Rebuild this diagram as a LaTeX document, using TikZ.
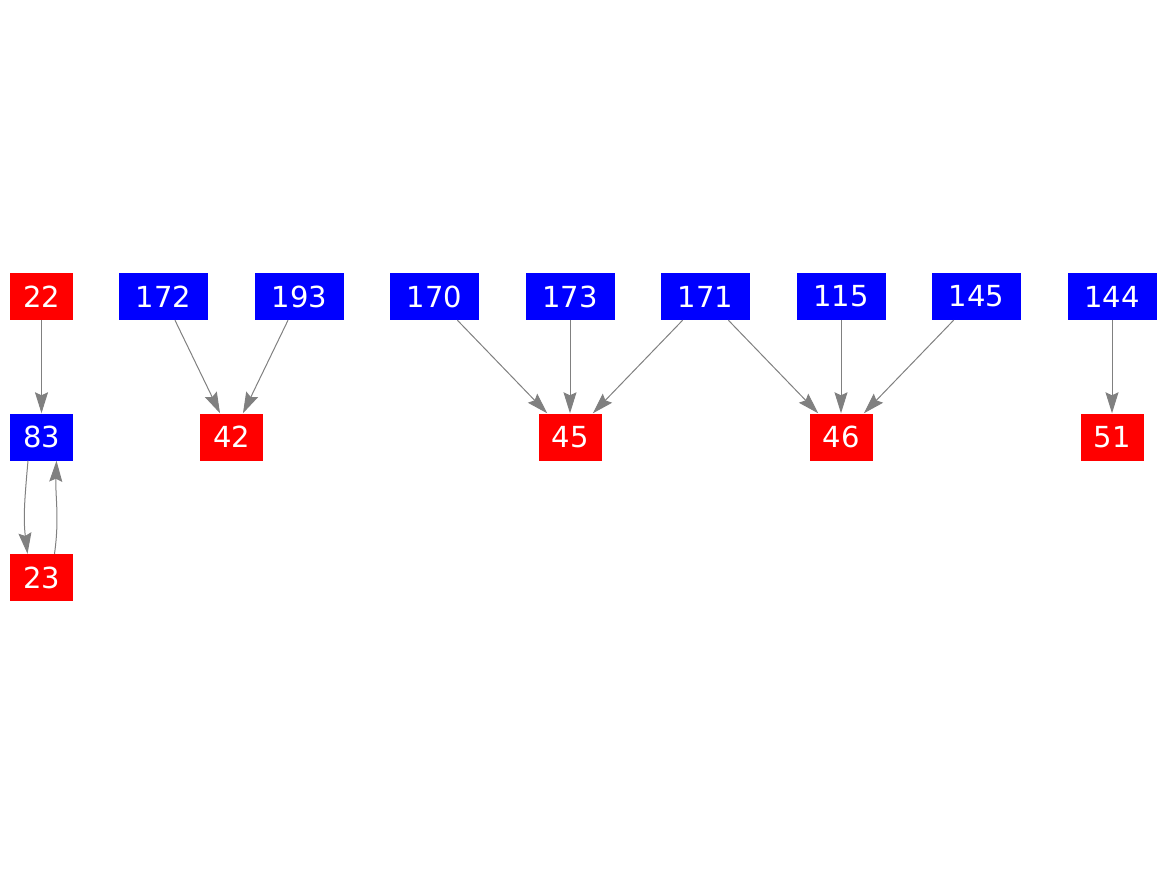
\documentclass[tikz,border=0pt]{standalone}
\usepackage{fontspec}
\setmainfont{DejaVu Sans}
\usetikzlibrary{arrows.meta}
\definecolor{nred}{HTML}{FF0000}
\definecolor{nblue}{HTML}{0000FF}
\definecolor{edgegray}{HTML}{808080}
\begin{document}
\begin{tikzpicture}[x=1pt,y=1pt,
  base/.style={rectangle,inner sep=0pt,minimum height=47pt,text=white,
    font=\fontsize{29}{34}\selectfont},
  rnode/.style={base,fill=nred,minimum width=63pt},
  bnode/.style={base,fill=nblue,minimum width=63pt},
  bwide/.style={base,fill=nblue,minimum width=89pt},
  edge/.style={draw=edgegray,line width=1pt,
    -{Stealth[length=21pt,width=13pt,inset=3pt]}}]
\useasboundingbox (0,0) rectangle (1167,-875);
% top row
\node[rnode] (n22) at (41.5,-296.5) {22};
\node[bwide] (n172) at (163.5,-296.5) {172};
\node[bwide] (n193) at (299.5,-296.5) {193};
\node[bwide] (n170) at (434.5,-296.5) {170};
\node[bwide] (n173) at (570,-296.5) {173};
\node[bwide] (n171) at (705.5,-296.5) {171};
\node[bwide] (n115) at (841,-296.5) {115};
\node[bwide] (n145) at (976.5,-296.5) {145};
\node[bwide] (n144) at (1112,-296.5) {144};
% middle row
\node[bnode] (n83) at (41.5,-437) {83};
\node[rnode] (n42) at (231.5,-437) {42};
\node[rnode] (n45) at (570,-437) {45};
\node[rnode] (n46) at (841,-437) {46};
\node[rnode] (n51) at (1112,-437) {51};
% bottom row
\node[rnode] (n23) at (41.5,-577.5) {23};
% edges
\draw[edge] (n22) -- (n83);
\draw[edge] ([xshift=-13.5pt]n83.south) to[out=-95,in=97] ([xshift=-14pt]n23.north);
\draw[edge] ([xshift=13pt]n23.north) to[out=82,in=-92] ([xshift=15pt]n83.south);
\draw[edge] (n172) -- (n42);
\draw[edge] (n193) -- (n42);
\draw[edge] (n170) -- (n45);
\draw[edge] (n173) -- (n45);
\draw[edge] (n171) -- (n45);
\draw[edge] (n171) -- (n46);
\draw[edge] (n115) -- (n46);
\draw[edge] (n145) -- (n46);
\draw[edge] (n144) -- (n51);
\end{tikzpicture}
\end{document}
